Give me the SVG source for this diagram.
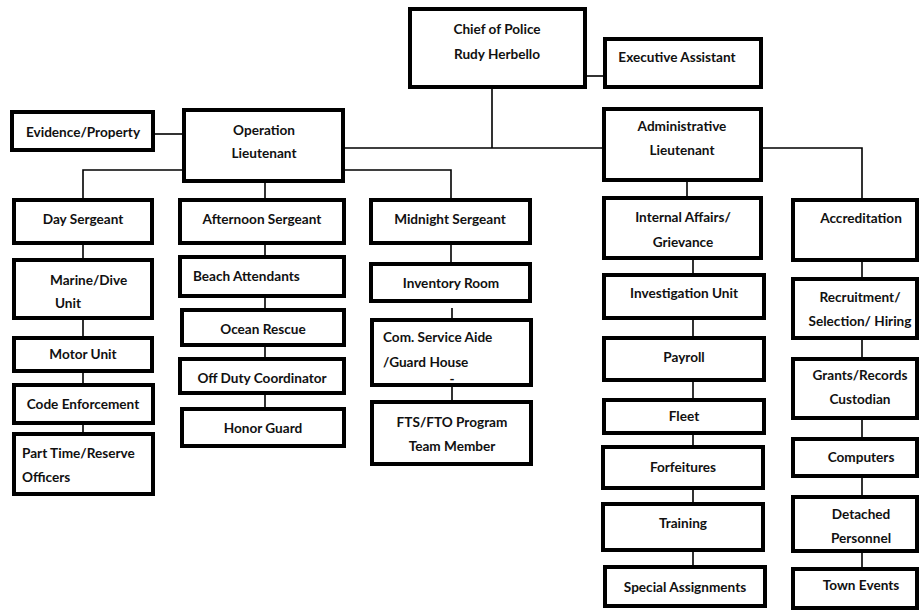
<svg xmlns="http://www.w3.org/2000/svg" width="923" height="613" viewBox="0 0 923 613">
<style>
  .box rect { fill: #fff; stroke: #000; stroke-width: 4; }
  .box text { font-family: Lato, "Open Sans", "Liberation Sans", sans-serif; font-weight: 700; font-size: 13.6px; fill: #111; text-anchor: middle; }
  .box text.l { text-anchor: start; }
  .conn path { fill: none; stroke: #000; stroke-width: 1.6; }
</style>
<rect width="923" height="613" fill="#fff"/>
<g class="conn" id="connectors">
  <path d="M492 89V148M345 148H602"/>
  <path d="M587 76H603"/>
  <path d="M155 134H182"/>
  <path d="M182 170H83V198"/>
  <path d="M345 170H451V198"/>
  <path d="M265 183V198"/>
  <path d="M763 148H862V198"/>
  <path d="M687 182V196"/>
  <path d="M83 245V258M83 320V336M83 373V383M83 425V432"/>
  <path d="M265 245V255M265 298V308M265 347V357M265 395V407"/>
  <path d="M451 245V262M452 308V318M452 387V400"/>
  <path d="M693 260V273M693 320V336M693 382V398M693 435V445M693 490V502M693 552V565"/>
  <path d="M862 262V277M862 340V357M862 420V437M862 478V495M862 553V567"/>
</g>
<g class="box" id="chief"><rect x="410" y="9" width="175" height="78"/><text x="497" y="34" font-size="15">Chief of Police</text><text x="497" y="59">Rudy Herbello</text></g>
<g class="box" id="exec"><rect x="605" y="39" width="156" height="48"/><text x="677" y="62">Executive Assistant</text></g>
<g class="box" id="evidence"><rect x="12" y="112" width="141" height="38"/><text x="83" y="137">Evidence/Property</text></g>
<g class="box" id="op-lt"><rect x="184" y="110" width="159" height="71"/><text x="264" y="135">Operation</text><text x="264" y="158">Lieutenant</text></g>
<g class="box" id="admin-lt"><rect x="604" y="109" width="157" height="71"/><text x="682" y="131">Administrative</text><text x="682" y="155">Lieutenant</text></g>
<g class="box" id="day-sgt"><rect x="14" y="200" width="138" height="43"/><text x="83" y="224">Day Sergeant</text></g>
<g class="box" id="marine"><rect x="14" y="260" width="138" height="58"/><text class="l" x="50" y="285">Marine/Dive</text><text class="l" x="55" y="308">Unit</text></g>
<g class="box" id="motor"><rect x="14" y="338" width="138" height="33"/><text x="83" y="359">Motor Unit</text></g>
<g class="box" id="code"><rect x="14" y="385" width="139" height="38"/><text x="83" y="409">Code Enforcement</text></g>
<g class="box" id="part-time"><rect x="14" y="434" width="139" height="60"/><text class="l" x="22" y="458">Part Time/Reserve</text><text class="l" x="22" y="482">Officers</text></g>
<g class="box" id="afternoon-sgt"><rect x="180" y="200" width="164" height="43"/><text x="262" y="224">Afternoon Sergeant</text></g>
<g class="box" id="beach"><rect x="180" y="257" width="164" height="39"/><text class="l" x="193" y="281">Beach Attendants</text></g>
<g class="box" id="ocean"><rect x="182" y="310" width="162" height="35"/><text x="263" y="334">Ocean Rescue</text></g>
<g class="box" id="off-duty"><rect x="180" y="359" width="164" height="34"/><text x="262" y="383">Off Duty Coordinator</text></g>
<g class="box" id="honor"><rect x="182" y="409" width="162" height="37"/><text x="263" y="433">Honor Guard</text></g>
<g class="box" id="midnight-sgt"><rect x="371" y="200" width="159" height="43"/><text x="450" y="224">Midnight Sergeant</text></g>
<g class="box" id="inventory"><rect x="371" y="264" width="159" height="37"/><text x="451" y="288">Inventory Room</text></g>
<g class="box" id="com-service"><rect x="372" y="320" width="159" height="65"/><text class="l" x="383" y="342">Com. Service Aide</text><text class="l" x="383" y="367">/Guard House</text><text x="452" y="384" font-size="10">-</text></g>
<g class="box" id="fts"><rect x="372" y="402" width="159" height="62"/><text x="452" y="427">FTS/FTO Program</text><text x="452" y="451">Team Member</text></g>
<g class="box" id="internal-affairs"><rect x="604" y="198" width="157" height="60"/><text x="683" y="222">Internal Affairs/</text><text x="683" y="247">Grievance</text></g>
<g class="box" id="investigation"><rect x="604" y="275" width="160" height="43"/><text x="684" y="298">Investigation Unit</text></g>
<g class="box" id="payroll"><rect x="604" y="338" width="160" height="42"/><text x="684" y="362">Payroll</text></g>
<g class="box" id="fleet"><rect x="604" y="400" width="160" height="33"/><text x="684" y="421">Fleet</text></g>
<g class="box" id="forfeitures"><rect x="603" y="447" width="160" height="41"/><text x="683" y="472">Forfeitures</text></g>
<g class="box" id="training"><rect x="603" y="504" width="160" height="46"/><text x="683" y="528">Training</text></g>
<g class="box" id="special"><rect x="605" y="567" width="160" height="39"/><text x="685" y="592">Special Assignments</text></g>
<g class="box" id="accreditation"><rect x="793" y="200" width="124" height="60"/><text x="861" y="223">Accreditation</text></g>
<g class="box" id="recruitment"><rect x="793" y="279" width="124" height="59"/><text x="860" y="302">Recruitment/</text><text x="860" y="326">Selection/ Hiring</text></g>
<g class="box" id="grants"><rect x="793" y="359" width="124" height="59"/><text x="860" y="380">Grants/Records</text><text x="860" y="404">Custodian</text></g>
<g class="box" id="computers"><rect x="793" y="439" width="124" height="37"/><text x="861" y="462">Computers</text></g>
<g class="box" id="detached"><rect x="793" y="497" width="124" height="54"/><text x="861" y="519">Detached</text><text x="861" y="543">Personnel</text></g>
<g class="box" id="town-events"><rect x="793" y="569" width="124" height="39"/><text x="861" y="590">Town Events</text></g>
</svg>
